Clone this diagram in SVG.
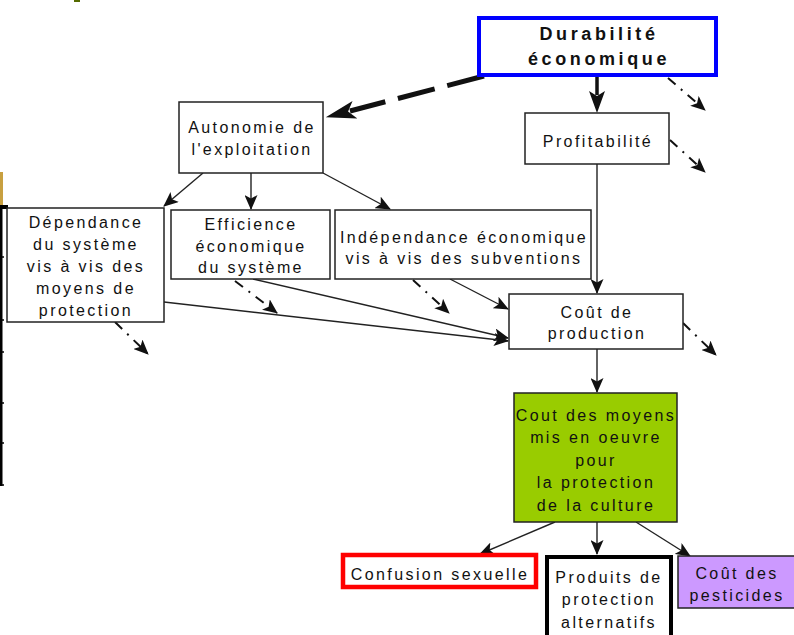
<svg xmlns="http://www.w3.org/2000/svg" width="794" height="635" viewBox="0 0 794 635">
<style>
.bx{fill:#fff;stroke:#222;stroke-width:1.5}
.t{font-family:"Liberation Sans",Arial,sans-serif;font-size:16px;letter-spacing:2.4px;fill:#111;text-anchor:middle}
.tb{font-family:"Liberation Sans",Arial,sans-serif;font-size:18px;font-weight:bold;letter-spacing:3.6px;fill:#111;text-anchor:middle}
.c{fill:none;stroke:#222;stroke-width:1.4}
.dd{fill:none;stroke:#111;stroke-width:2;stroke-dasharray:10 7 2 7}
</style>
<defs>
<marker id="ah" markerUnits="userSpaceOnUse" markerWidth="15" markerHeight="13" refX="14" refY="6.5" orient="auto">
<path d="M0,0 L15,6.5 L0,13 L3.5,6.5 z" fill="#111"/>
</marker>
<marker id="ahm" markerUnits="userSpaceOnUse" markerWidth="22" markerHeight="16" refX="4" refY="8" orient="auto">
<path d="M0,0 L22,8 L0,16 L5,8 z" fill="#111"/>
</marker>
<marker id="ahb" markerUnits="userSpaceOnUse" markerWidth="30" markerHeight="18" refX="5" refY="9" orient="auto">
<path d="M0,0 L30,9 L0,18 L7,9 z" fill="#111"/>
</marker>
</defs>

<!-- left edge fragment -->
<g id="fragment">
<rect x="74" y="0" width="6" height="2" fill="#556b00"/>
<rect x="0" y="172" width="3" height="34" fill="#c8a040"/>
<rect x="0" y="205" width="8" height="4" fill="#000"/>
<rect x="0" y="209" width="2.5" height="277" fill="#000"/>
<path d="M0,257h4M0,320h4M0,352h4M0,403h4M0,443h4M0,485h4" stroke="#000" stroke-width="1.5"/>
</g>

<g id="connectors">
<line x1="597" y1="77" x2="597" y2="95" stroke="#111" stroke-width="3.5" marker-end="url(#ahm)"/>
<line x1="484" y1="76" x2="350" y2="111" stroke="#111" stroke-width="5" stroke-dasharray="38 13" marker-end="url(#ahb)"/>
<line class="c" x1="203" y1="173" x2="164" y2="206" marker-end="url(#ah)"/>
<line class="c" x1="251" y1="173" x2="251" y2="209" marker-end="url(#ah)"/>
<line class="c" x1="323" y1="173" x2="390" y2="209" marker-end="url(#ah)"/>
<line class="c" x1="597" y1="164" x2="597" y2="293" marker-end="url(#ah)"/>
<line class="c" x1="450" y1="279" x2="508" y2="309" marker-end="url(#ah)"/>
<line class="c" x1="253" y1="279" x2="508" y2="338" marker-end="url(#ah)"/>
<line class="c" x1="164" y1="302" x2="508" y2="341" marker-end="url(#ah)"/>
<line class="c" x1="597" y1="349" x2="597" y2="392" marker-end="url(#ah)"/>
<line class="c" x1="555" y1="522" x2="480" y2="554" marker-end="url(#ah)"/>
<line class="c" x1="597" y1="522" x2="597" y2="554" marker-end="url(#ah)"/>
<line class="c" x1="636" y1="522" x2="690" y2="556" marker-end="url(#ah)"/>
<line class="dd" x1="668" y1="78" x2="705" y2="110" marker-end="url(#ah)"/>
<line class="dd" x1="670" y1="140" x2="705" y2="172" marker-end="url(#ah)"/>
<line class="dd" x1="683" y1="323" x2="716" y2="355" marker-end="url(#ah)"/>
<line class="dd" x1="115" y1="322" x2="148" y2="354" marker-end="url(#ah)"/>
<line class="dd" x1="235" y1="281" x2="277" y2="313" marker-end="url(#ah)"/>
<line class="dd" x1="413" y1="280" x2="449" y2="313" marker-end="url(#ah)"/>
</g>

<g id="durabilite">
<rect x="479" y="18" width="237" height="57" fill="#fff" stroke="#0000ff" stroke-width="4"/>
<text class="tb" x="599" y="40">Durabilité</text>
<text class="tb" x="599" y="65">économique</text>
</g>

<g id="profitabilite">
<rect class="bx" x="525" y="113" width="144" height="51"/>
<text class="t" x="598" y="147">Profitabilité</text>
</g>

<g id="autonomie">
<rect class="bx" x="179" y="102" width="144" height="71"/>
<text class="t" x="252" y="133">Autonomie de</text>
<text class="t" x="252" y="155">l'exploitation</text>
</g>

<g id="dependance">
<rect class="bx" x="7" y="208" width="157" height="114"/>
<text class="t" x="86" y="228">Dépendance</text>
<text class="t" x="86" y="250">du système</text>
<text class="t" x="86" y="272">vis à vis des</text>
<text class="t" x="86" y="294">moyens de</text>
<text class="t" x="86" y="316">protection</text>
</g>

<g id="efficience">
<rect class="bx" x="171" y="210" width="159" height="69"/>
<text class="t" x="251" y="230">Efficience</text>
<text class="t" x="251" y="252">économique</text>
<text class="t" x="251" y="273">du système</text>
</g>

<g id="independance">
<rect class="bx" x="335" y="210" width="256" height="69"/>
<text class="t" x="464" y="243">Indépendance économique</text>
<text class="t" x="464" y="264">vis à vis des subventions</text>
</g>

<g id="cout-production">
<rect class="bx" x="509" y="294" width="174" height="55"/>
<text class="t" x="597" y="318">Coût de</text>
<text class="t" x="597" y="339">production</text>
</g>

<g id="cout-moyens">
<rect x="514" y="393" width="163" height="129" fill="#99cc00" stroke="#222" stroke-width="1.5"/>
<text class="t" x="596" y="421">Cout des moyens</text>
<text class="t" x="596" y="443">mis en oeuvre</text>
<text class="t" x="596" y="466">pour</text>
<text class="t" x="596" y="488">la protection</text>
<text class="t" x="596" y="511">de la culture</text>
</g>

<g id="confusion">
<rect x="343" y="555" width="193" height="32" fill="#fff" stroke="#ff0000" stroke-width="4.5"/>
<text class="t" x="440" y="580">Confusion sexuelle</text>
</g>

<g id="produits">
<rect x="547" y="557" width="124" height="84" fill="#fff" stroke="#000" stroke-width="4"/>
<text class="t" x="609" y="583">Produits de</text>
<text class="t" x="609" y="605">protection</text>
<text class="t" x="609" y="628">alternatifs</text>
</g>

<g id="pesticides">
<rect x="678" y="556" width="120" height="52" fill="#cc99ff" stroke="#222" stroke-width="1.5"/>
<text class="t" x="737" y="579">Coût des</text>
<text class="t" x="737" y="601">pesticides</text>
</g>
</svg>
